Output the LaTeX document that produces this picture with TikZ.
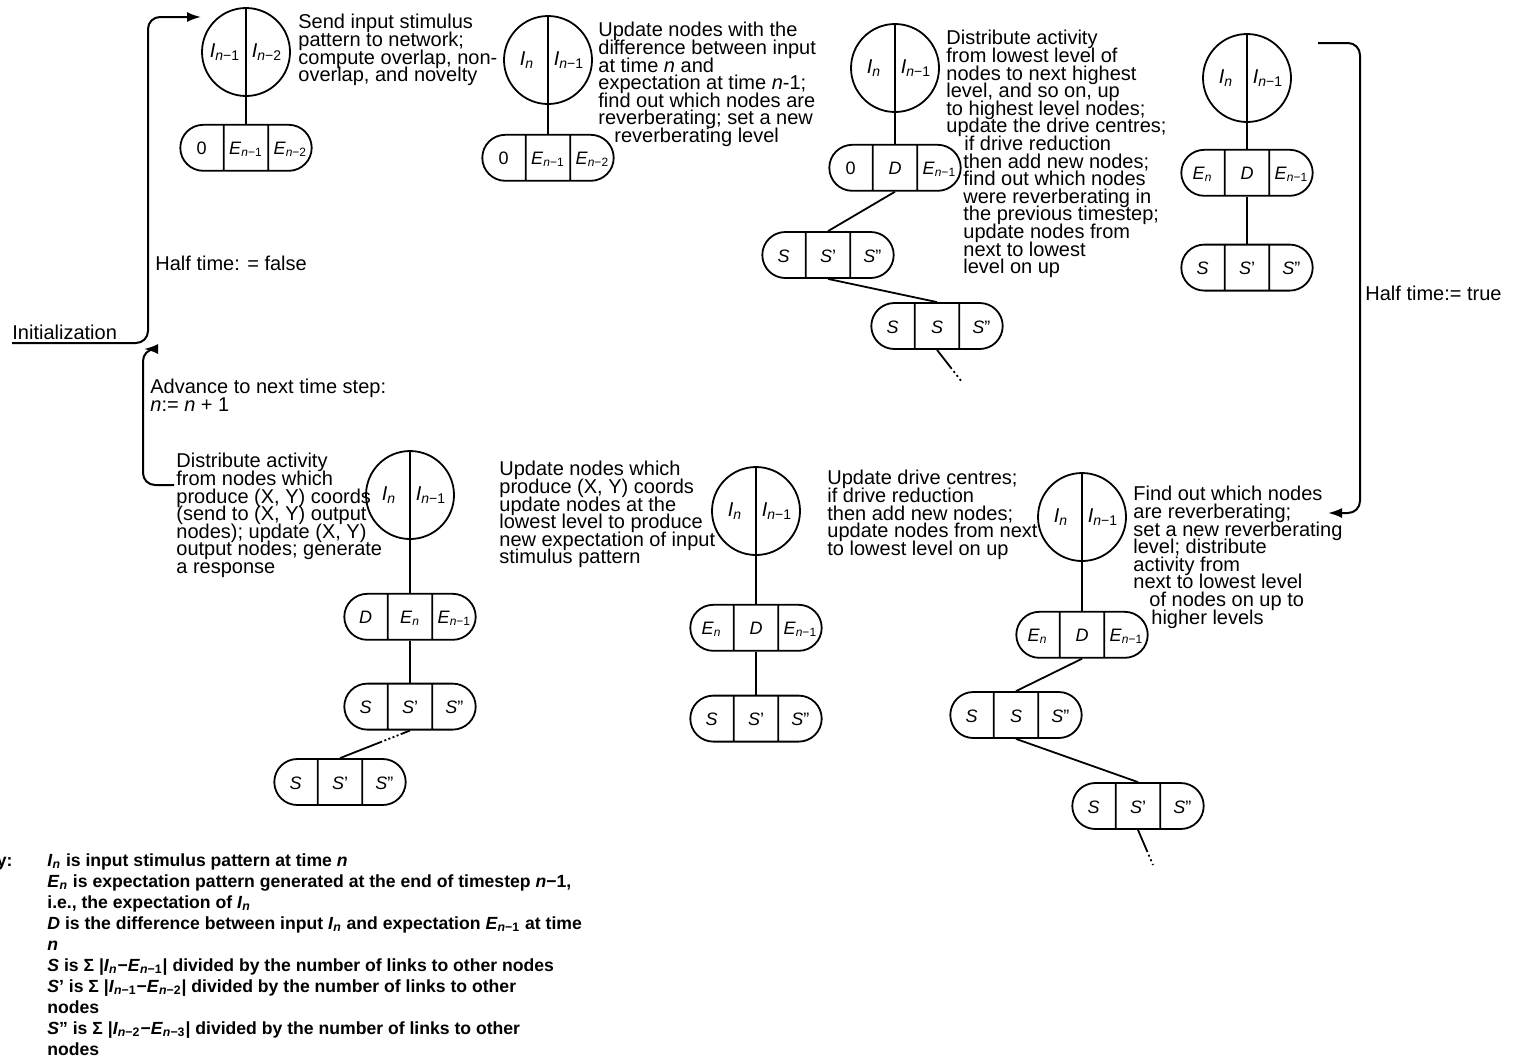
\documentclass[tikz,border=0pt]{standalone}
\usepackage{fontspec}
\setmainfont{Liberation Sans}
\usepackage{tikz}
\usetikzlibrary{positioning,shapes.multipart,arrows.meta}
\newcommand\lab[2]{\textit{#1}\textsubscript{\textit{n}#2}}
\newcommand\cellstrut{\rule[-8pt]{0pt}{23pt}}
\newcommand\cells[3]{\makebox[21.3pt]{\cellstrut#1}\nodepart{two}\makebox[21.3pt]{\cellstrut#2}\nodepart{three}\makebox[21.3pt]{\cellstrut#3}}

\begin{document}
\lineskiplimit=-5pt
\begin{tikzpicture}[x=0.5pt,y=-0.5pt,>={Latex[length=7pt,width=5pt]},
  unit/.style={draw,circle,line width=0.9pt,minimum size=44pt,inner sep=0pt},
  half/.style={font=\fontsize{10}{11}\selectfont,inner sep=0pt},
  halves/.style 2 args={label={[half,xshift=-10.5pt]center:#1},label={[half,xshift=10.5pt]center:#2}},
  pill/.style={draw,line width=0.9pt,rectangle split,rectangle split horizontal,rectangle split parts=3,
    rounded corners=11.5pt,inner sep=0pt,font=\fontsize{9}{10}\selectfont},
  note/.style={align=left,inner sep=0pt,anchor=north west,font=\fontsize{10}{8.8}\selectfont},
  link/.style={line width=0.9pt},
  tail/.style={link,dash pattern=on 12pt off 1.5pt on 1pt off 1.5pt on 1pt off 1.5pt on 1pt},
  flow/.style={->,line width=1pt,rounded corners=6pt}]
\useasboundingbox (0,0) rectangle (1525,1057);

\node[unit,halves={\lab{I}{−1}}{\lab{I}{−2}}] (cA) at (246,52) {};
\node[pill,below=13.5pt of cA] (pA) {\cells{0}{\lab{E}{−1}}{\lab{E}{−2}}};
\node[note] (tA) at (298,14) {Send input stimulus\\pattern to network;\\compute overlap, non-\\overlap, and novelty};

\node[unit,halves={\lab{I}{}}{\lab{I}{−1}}] (cB) at (548,60) {};
\node[pill,below=14.5pt of cB] (pB) {\cells{0}{\lab{E}{−1}}{\lab{E}{−2}}};
\node[note] (tB) at (598,22) {Update nodes with the\\difference between input\\at time \textit{n} and\\expectation at time \textit{n}-1;\\find out which nodes are\\reverberating; set a new\\\hspace*{8pt}reverberating level};

\node[unit,halves={\lab{I}{}}{\lab{I}{−1}}] (cC) at (895,68) {};
\node[pill,below=15.5pt of cC] (pC) {\cells{0}{\textit{D}}{\lab{E}{−1}}};
\node[pill] (pC2) at (828,255) {\cells{\textit{S}}{\textit{S}'}{\textit{S}''}};
\node[pill] (pC3) at (937,326) {\cells{\textit{S}}{\textit{S}}{\textit{S}''}};
\coordinate (cEnd) at (962,382);
\node[note] (tC) at (946,30) {Distribute activity\\from lowest level of\\nodes to next highest\\level, and so on, up\\to highest level nodes;\\update the drive centres;\\
\hspace*{9pt}if drive reduction\\\hspace*{8.5pt}then add new nodes;\\\hspace*{8.5pt}find out which nodes\\\hspace*{8.5pt}were reverberating in\\\hspace*{8.5pt}the previous timestep;\\\hspace*{8.5pt}update nodes from\\\hspace*{8.5pt}next to lowest\\\hspace*{8.5pt}level on up};

\node[unit,halves={\lab{I}{}}{\lab{I}{−1}}] (cD) at (1247,78) {};
\node[pill,below=13pt of cD] (pD) {\cells{\lab{E}{}}{\textit{D}}{\lab{E}{−1}}};
\node[pill,below=23.5pt of pD] (pD2) {\cells{\textit{S}}{\textit{S}'}{\textit{S}''}};

\node[unit,halves={\lab{I}{}}{\lab{I}{−1}}] (cE) at (1082,517) {};
\node[pill,below=24.5pt of cE] (pE) {\cells{\lab{E}{}}{\textit{D}}{\lab{E}{−1}}};
\node[pill] (pE2) at (1016,715) {\cells{\textit{S}}{\textit{S}}{\textit{S}''}};
\node[pill] (pE3) at (1138,806) {\cells{\textit{S}}{\textit{S}'}{\textit{S}''}};
\coordinate (eEnd) at (1153,865);
\node[note] (tE) at (827,470) {Update drive centres;\\if drive reduction\\then add new nodes;\\update nodes from next\\to lowest level on up};
\node[note] (tE2) at (1133,486) {Find out which nodes\\are reverberating;\\set a new reverberating\\level; distribute\\activity from\\next to lowest level\\\hspace*{8pt}of nodes on up to\\\hspace*{9pt}higher levels};

\node[unit,halves={\lab{I}{}}{\lab{I}{−1}}] (cF) at (756,511) {};
\node[pill,below=24pt of cF] (pF) {\cells{\lab{E}{}}{\textit{D}}{\lab{E}{−1}}};
\node[pill,below=21.5pt of pF] (pF2) {\cells{\textit{S}}{\textit{S}'}{\textit{S}''}};
\node[note] (tF) at (499,461) {Update nodes which\\produce (X, Y) coords\\update nodes at the\\lowest level to produce\\new expectation of input\\stimulus pattern};

\node[unit,halves={\lab{I}{}}{\lab{I}{−1}}] (cG) at (410,495) {};
\node[pill,below=26.5pt of cG] (pG) {\cells{\textit{D}}{\lab{E}{}}{\lab{E}{−1}}};
\node[pill,below=21pt of pG] (pG2) {\cells{\textit{S}}{\textit{S}'}{\textit{S}''}};
\node[pill] (pG3) at (340,782) {\cells{\textit{S}}{\textit{S}'}{\textit{S}''}};
\node[note] (tG) at (176,453) {Distribute activity\\from nodes which\\produce (X, Y) coords\\(send to (X, Y) output\\nodes); update (X, Y)\\output nodes; generate\\a response};

\draw[link] (cA.north) -- (pA.north);
\draw[link] (cB.north) -- (pB.north);
\draw[link] (cC.north) -- (pC.north);
\draw[link] (pC.south) -- (pC2.north);
\draw[link] (pC2.south) -- (pC3.north);
\draw[tail] (pC3.south) -- (cEnd);
\draw[link] (cD.north) -- (pD.north);
\draw[link] (pD.south) -- (pD2.north);
\draw[link] (cE.north) -- (pE.north);
\draw[link] (pE.south) -- (pE2.north);
\draw[link] (pE2.south) -- (pE3.north);
\draw[tail] (pE3.south) -- (eEnd);
\draw[link] (cF.north) -- (pF.north);
\draw[link] (pF.south) -- (pF2.north);
\draw[link] (cG.north) -- (pG.north);
\draw[link] (pG.south) -- (pG2.north);
\draw[link,dash pattern=on 5pt off 1.2pt on 1pt off 1.2pt on 1pt off 1.2pt on 1pt off 1.2pt on 1pt off 1.2pt on 40pt] (pG2.south) -- (pG3.north);

\node[inner sep=0pt,anchor=south west,font=\fontsize{10}{12}\selectfont] (init) at (12,340) {Initialization};
\coordinate (aIn) at (201,17);
\draw[flow] ([yshift=-1.5pt]init.south west) -- (148,343) -- (148,17) -- (aIn);
\node[inner sep=0pt,anchor=west,font=\fontsize{10}{12}\selectfont] (hFalse) at (155,263) {Half time: = false};
\node[note] (adv) at (150,379) {Advance to next time step:\\\textit{n}:= \textit{n} + 1};
\coordinate (gOut) at (174,485);
\coordinate (aRet) at (144,349);
\draw[flow] (gOut) -- (143,485) -- (143,349) -- (aRet);

\coordinate (dOut) at (1318,43);
\coordinate (eIn) at (1328,513);
\draw[flow] (dOut) -- (1360,43) -- (1360,513) -- (eIn);
\node[inner sep=0pt,anchor=west,font=\fontsize{10}{12}\selectfont] (hTrue) at (1365,293) {Half time:= true};

\node[inner sep=0pt,anchor=base east,font=\bfseries\fontsize{8.8}{10}\selectfont] (key) at (13,866) {Key:};
\node[inner sep=0pt,anchor=north west,align=left,font=\bfseries\fontsize{8.8}{10.5}\selectfont] (keyText) at (47,853) {%
\lab{I}{} is input stimulus pattern at time \textit{n}\\
\lab{E}{} is expectation pattern generated at the end of timestep \textit{n}−1,\\
i.e., the expectation of \lab{I}{}\\
\textit{D} is the difference between input \lab{I}{} and expectation \lab{E}{−1} at time\\
\textit{n}\\
\textit{S} is Σ |\lab{I}{}−\lab{E}{−1}| divided by the number of links to other nodes\\
\textit{S}' is Σ |\lab{I}{−1}−\lab{E}{−2}| divided by the number of links to other\\
nodes\\
\textit{S}'' is Σ |\lab{I}{−2}−\lab{E}{−3}| divided by the number of links to other\\
nodes};
\end{tikzpicture}
\end{document}
